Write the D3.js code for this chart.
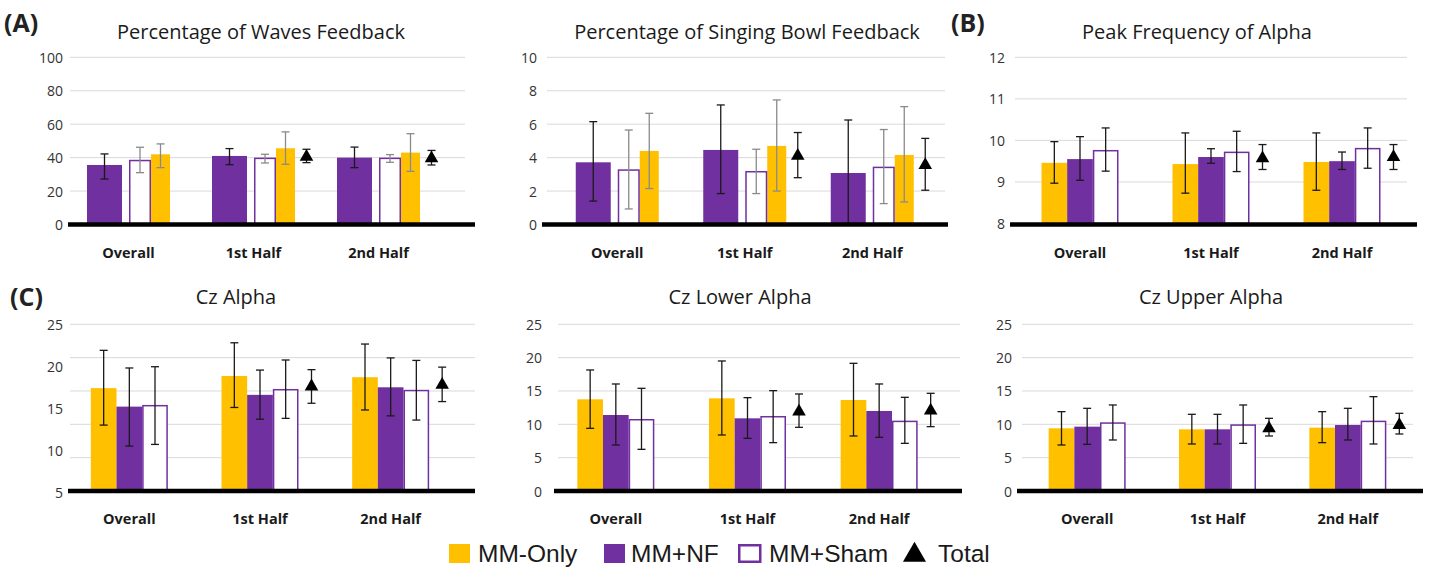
<!DOCTYPE html>
<html>
<head>
<meta charset="utf-8">
<script src="https://cdn.jsdelivr.net/npm/d3@7/dist/d3.min.js"></script>
<style>
  html, body { margin: 0; padding: 0; background: #fff; }
  svg { display: block; }
  text { font-family: "Open Sans", "DejaVu Sans", sans-serif; }
</style>
</head>
<body>
<svg id="chart" width="1429" height="571"></svg>
<script>
// ---------------- DATA ----------------
const categories = ["Overall", "1st Half", "2nd Half"];
const groups = ["MM-Only", "MM+NF", "MM+Sham", "Total"];

// each entry: [mean, lower error, upper error]; null = not shown
const wavesOnly  = [[42.0, 34.0, 48.2], [45.6, 36.0, 55.4], [43.0, 31.8, 54.3]];
const wavesNF    = [[35.6, 27.2, 42.2], [41.0, 35.8, 45.4], [40.0, 34.0, 46.3]];
const wavesSham  = [[38.7, 31.0, 46.2], [40.0, 36.8, 42.0], [40.0, 37.2, 41.8]];
const wavesTotal = [null, [40.5, 37.0, 45.0], [39.6, 35.6, 44.3]];

const bowlOnly  = [[4.40, 2.15, 6.65], [4.70, 2.00, 7.45], [4.16, 1.35, 7.05]];
const bowlNF    = [[3.72, 1.40, 6.15], [4.46, 1.85, 7.15], [3.08, 0.00, 6.25]];
const bowlSham  = [[3.30, 0.93, 5.65], [3.20, 1.85, 4.50], [3.46, 1.25, 5.68]];
const bowlTotal = [null, [4.10, 2.80, 5.50], [3.56, 2.05, 5.15]];

const peakOnly  = [[9.46, 8.97, 9.97], [9.43, 8.73, 10.18], [9.48, 8.80, 10.18]];
const peakNF    = [[9.55, 9.04, 10.09], [9.60, 9.45, 9.80], [9.50, 9.30, 9.72]];
const peakSham  = [[9.77, 9.26, 10.30], [9.73, 9.25, 10.22], [9.82, 9.33, 10.30]];
const peakTotal = [null, [9.57, 9.30, 9.90], [9.60, 9.30, 9.90]];

const czOnly  = [[17.4, 13.0, 21.9], [18.85, 15.1, 22.8], [18.7, 14.8, 22.65]];
const czNF    = [[15.2, 10.5, 19.8], [16.6, 13.7, 19.55], [17.5, 14.1, 21.0]];
const czSham  = [[15.4, 10.7, 19.95], [17.3, 13.8, 20.75], [17.2, 13.6, 20.7]];
const czTotal = [null, [17.6, 15.6, 19.6], [17.8, 15.8, 19.9]];

const lowOnly  = [[13.75, 9.4, 18.15], [13.9, 8.4, 19.5], [13.65, 8.25, 19.15]];
const lowNF    = [[11.4, 6.9, 16.05], [10.9, 7.9, 14.0], [12.0, 8.05, 16.05]];
const lowSham  = [[10.8, 6.25, 15.4], [11.25, 7.25, 15.05], [10.55, 7.15, 14.05]];
const lowTotal = [null, [11.9, 9.55, 14.55], [12.05, 9.65, 14.65]];

const upOnly  = [[9.4, 6.9, 11.9], [9.25, 7.05, 11.5], [9.5, 7.25, 11.9]];
const upNF    = [[9.65, 7.0, 12.4], [9.25, 7.05, 11.5], [9.9, 7.65, 12.4]];
const upSham  = [[10.3, 7.65, 12.9], [10.0, 7.15, 12.9], [10.55, 7.05, 14.15]];
const upTotal = [null, [9.4, 8.25, 10.9], [9.9, 8.55, 11.65]];

const ticksWaves = [0, 20, 40, 60, 80, 100];
const ticksBowl  = [0, 2, 4, 6, 8, 10];
const ticksPeak  = [8, 9, 10, 11, 12];
const ticksCz    = [5, 10, 15, 20, 25];
const ticksCzGrid = [0, 5, 10, 15, 20, 25];
const ticksBand  = [0, 5, 10, 15, 20, 25];

// ---------------- STYLE ----------------
const YELLOW = "#FFC000", PURPLE = "#7030A0";
const fills = { "MM-Only": YELLOW, "MM+NF": PURPLE, "MM+Sham": "#fff" };

// layout of bars inside a category band (relative to band centre)
const slotsA = { "MM+NF": [-41.5, -6.5], "MM+Sham": [0.5, 22.5], "MM-Only": [22.5, 41.5], "Total": 53 };
const innerB = d3.scaleBand().domain(["MM-Only", "MM+NF", "MM+Sham"]).range([-38.5, 38.5]);
const slotsB = {};
innerB.domain().forEach(g => slotsB[g] = [innerB(g), innerB(g) + innerB.bandwidth()]);
slotsB["Total"] = 51.5;

const errA = { "MM-Only": "#8a8a8a", "MM+NF": "#1a1a1a", "MM+Sham": "#8a8a8a", "Total": "#1a1a1a" };
const errB = { "MM-Only": "#1a1a1a", "MM+NF": "#1a1a1a", "MM+Sham": "#1a1a1a", "Total": "#1a1a1a" };

const panels = [
  { title: "Percentage of Waves Feedback", titleX: 261, row: 0,
    series: { "MM-Only": wavesOnly, "MM+NF": wavesNF, "MM+Sham": wavesSham, "Total": wavesTotal },
    domain: [0, 100], ticks: ticksWaves, band: [66, 441], grid: [70, 465], axis: [68, 475], labelX: 63,
    slots: slotsA, err: errA },
  { title: "Percentage of Singing Bowl Feedback", titleX: 747, row: 0,
    series: { "MM-Only": bowlOnly, "MM+NF": bowlNF, "MM+Sham": bowlSham, "Total": bowlTotal },
    domain: [0, 10], ticks: ticksBowl, band: [553.5, 936], grid: [547, 945], axis: [542, 948], labelX: 537,
    slots: slotsA, err: errA },
  { title: "Peak Frequency of Alpha", titleX: 1197, row: 0,
    series: { "MM-Only": peakOnly, "MM+NF": peakNF, "MM+Sham": peakSham, "Total": peakTotal },
    domain: [8, 12], ticks: ticksPeak, band: [1014.5, 1407.5], grid: [1015, 1407], axis: [1010, 1417], labelX: 1005,
    slots: slotsB, err: errB, bottomY: 223.5 },
  { title: "Cz Alpha", titleX: 236, row: 1,
    series: { "MM-Only": czOnly, "MM+NF": czNF, "MM+Sham": czSham, "Total": czTotal },
    domain: [5, 25], ticks: ticksCz, gridTicks: ticksCzGrid, gridDomain: [0, 25], bottomY: 492.3,
    band: [64, 456], grid: [70, 475], axis: [68, 475], labelX: 63,
    slots: slotsB, err: errB },
  { title: "Cz Lower Alpha", titleX: 740, row: 1,
    series: { "MM-Only": lowOnly, "MM+NF": lowNF, "MM+Sham": lowSham, "Total": lowTotal },
    domain: [0, 25], ticks: ticksBand, band: [550, 945], grid: [558, 960], axis: [554, 962], labelX: 542,
    slots: slotsB, err: errB },
  { title: "Cz Upper Alpha", titleX: 1211, row: 1,
    series: { "MM-Only": upOnly, "MM+NF": upNF, "MM+Sham": upSham, "Total": upTotal },
    domain: [0, 25], ticks: ticksBand, band: [1022, 1413], grid: [1022, 1413], axis: [1017, 1423], labelX: 1012,
    slots: slotsB, err: errB }
];

const rows = [
  { bottom: 224.5, top: 57.3, titleY: 39, catY: 252 },
  { bottom: 491, top: 324.3, titleY: 304, catY: 518 }
];

const letters = [
  { t: "(A)", x: 4, y: 32 },
  { t: "(B)", x: 951, y: 32 },
  { t: "(C)", x: 10, y: 306 }
];

// ---------------- DRAW ----------------
const svg = d3.select("#chart");

panels.forEach(p => {
  const r = rows[p.row];
  const g = svg.append("g");
  const y = d3.scaleLinear().domain(p.domain).range([p.bottomY || r.bottom, r.top]);
  const yGrid = p.gridDomain ? d3.scaleLinear().domain(p.gridDomain).range([r.bottom, r.top]) : y;
  const gridTicks = p.gridTicks || p.ticks;
  const x = d3.scaleBand().domain(categories).range(p.band);
  const cx = c => x(c) + x.bandwidth() / 2;

  // gridlines
  g.selectAll(".grid").data(gridTicks.slice(1)).join("line")
    .attr("x1", p.grid[0]).attr("x2", p.grid[1])
    .attr("y1", d => yGrid(d)).attr("y2", d => yGrid(d))
    .attr("stroke", "#d9d9d9").attr("stroke-width", 1);

  // y tick labels
  g.selectAll(".tick").data(p.ticks).join("text")
    .attr("x", p.labelX).attr("y", d => y(d))
    .attr("text-anchor", "end").attr("dominant-baseline", "central")
    .attr("font-size", 14).attr("fill", "#333").text(d => d);

  // title
  g.append("text").attr("x", p.titleX).attr("y", r.titleY)
    .attr("text-anchor", "middle").attr("font-size", 20).attr("fill", "#1a1a1a").text(p.title);

  // bars
  const base = y(p.domain[0]);
  ["MM-Only", "MM+NF", "MM+Sham"].forEach(s => {
    const vals = p.series[s];
    const sl = p.slots[s];
    categories.forEach((c, i) => {
      const d = vals[i];
      if (!d) return;
      const x0 = cx(c) + sl[0], x1 = cx(c) + sl[1];
      const isHollow = s === "MM+Sham";
      g.append("rect")
        .attr("x", isHollow ? x0 + 0.75 : x0)
        .attr("y", isHollow ? y(d[0]) + 0.75 : y(d[0]))
        .attr("width", isHollow ? x1 - x0 - 1.5 : x1 - x0)
        .attr("height", Math.max(0, base - y(d[0]) - (isHollow ? 0.75 : 0)))
        .attr("fill", fills[s])
        .attr("stroke", isHollow ? PURPLE : "none")
        .attr("stroke-width", isHollow ? 1.5 : 0);
    });
  });

  // error bars
  groups.forEach(s => {
    const vals = p.series[s];
    const sl = p.slots[s];
    categories.forEach((c, i) => {
      const d = vals[i];
      if (!d) return;
      const xm = s === "Total" ? cx(c) + sl : cx(c) + (sl[0] + sl[1]) / 2;
      const col = p.err[s];
      g.append("line").attr("x1", xm).attr("x2", xm)
        .attr("y1", y(d[1])).attr("y2", y(d[2]))
        .attr("stroke", col).attr("stroke-width", 1.3);
      [d[1], d[2]].forEach(v => {
        g.append("line").attr("x1", xm - 4).attr("x2", xm + 4)
          .attr("y1", y(v)).attr("y2", y(v))
          .attr("stroke", col).attr("stroke-width", 1.3);
      });
    });
  });

  // axis line
  g.append("line").attr("x1", p.axis[0]).attr("x2", p.axis[1])
    .attr("y1", r.bottom).attr("y2", r.bottom)
    .attr("stroke", "#000").attr("stroke-width", 4.5);

  // total triangles
  const tri = d3.symbol().type(d3.symbolTriangle).size(80);
  categories.forEach((c, i) => {
    const d = p.series["Total"][i];
    if (!d) return;
    g.append("path").attr("d", tri)
      .attr("transform", `translate(${cx(c) + p.slots["Total"]},${y(d[0])})`)
      .attr("fill", "#000");
  });

  // category labels
  g.selectAll(".cat").data(categories).join("text")
    .attr("x", d => cx(d)).attr("y", r.catY)
    .attr("text-anchor", "middle").attr("dominant-baseline", "central")
    .attr("font-size", 14.5).attr("font-weight", 700).attr("fill", "#1a1a1a").text(d => d);
});

// panel letters
svg.selectAll(".letter").data(letters).join("text")
  .attr("x", d => d.x).attr("y", d => d.y)
  .attr("font-size", 25).attr("font-weight", 700).attr("fill", "#222").text(d => d.t);

// legend
const legend = [
  { name: "MM-Only", x: 449, tx: 478, type: "box", fill: YELLOW },
  { name: "MM+NF", x: 604, tx: 631, type: "box", fill: PURPLE },
  { name: "MM+Sham", x: 738, tx: 769, type: "hollow", fill: "#fff" },
  { name: "Total", x: 903, tx: 938, type: "tri", fill: "#000" }
];
const lg = svg.append("g");
legend.forEach(l => {
  if (l.type === "box") {
    lg.append("rect").attr("x", l.x).attr("y", 544).attr("width", 21).attr("height", 19).attr("fill", l.fill);
  } else if (l.type === "hollow") {
    lg.append("rect").attr("x", l.x + 1.25).attr("y", 545.25).attr("width", 21).attr("height", 16.5)
      .attr("fill", "#fff").attr("stroke", PURPLE).attr("stroke-width", 2.5);
  } else {
    lg.append("path").attr("d", d3.symbol().type(d3.symbolTriangle).size(230))
      .attr("transform", `translate(${l.x + 11.5},${555})`).attr("fill", "#000");
  }
  lg.append("text").attr("x", l.tx).attr("y", 562)
    .style("font-family", "'Liberation Sans', Arial, sans-serif")
    .attr("font-size", 24.5).attr("fill", "#1a1a1a").text(l.name);
});
</script>
</body>
</html>
